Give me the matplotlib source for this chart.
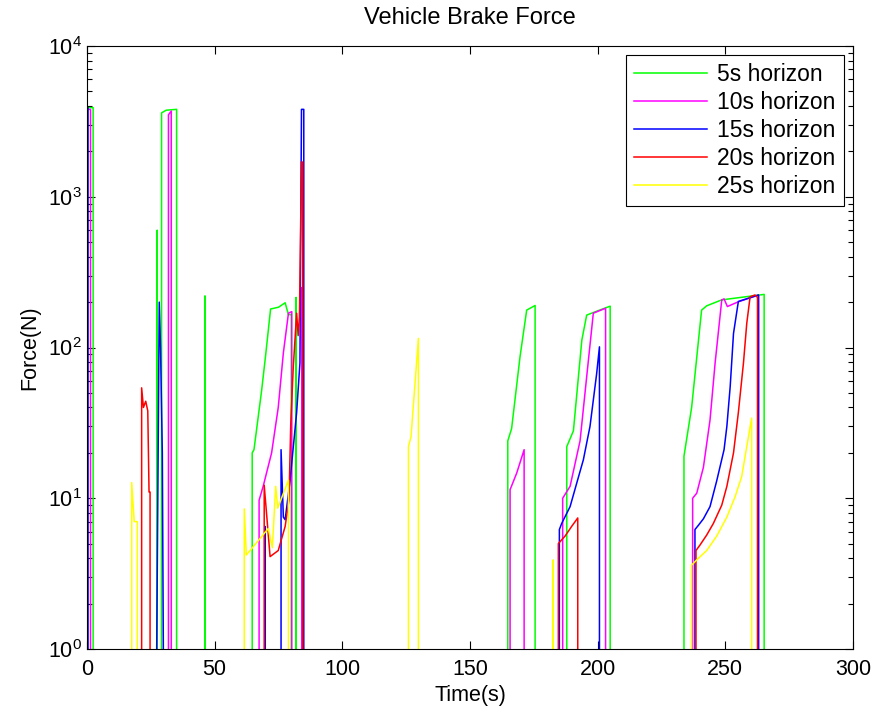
import matplotlib
matplotlib.use("Agg")
import matplotlib.pyplot as plt

plt.rcParams["font.family"] = ["Liberation Sans", "DejaVu Sans"]
plt.rcParams["mathtext.default"] = "regular"

# brake force per prediction horizon, 0 means no braking (off the log axis)
t_5s = [0, 2.4, 2.5,
        27.3, 27.5, 27.7,
        29.0, 29.2, 31.0, 35.1, 35.6,
        46.0, 46.2, 46.4,
        64.5, 64.7, 65.4, 68.4, 70.0, 71.9, 75.0, 77.6, 78.9, 80.0, 80.3,
        81.6, 81.9, 82.2,
        164.6, 164.8, 166.3, 169.6, 172.2, 175.5, 176.2,
        187.7, 187.9, 190.5, 193.8, 195.7, 200.0, 204.9, 205.8,
        233.6, 233.8, 236.8, 240.7, 242.7, 248.6, 265.2, 266.2]
f_5s = [3900, 3900, 0,
        0, 600, 0,
        0, 3600, 3750, 3800, 0,
        0, 220, 0,
        0, 20, 21, 52, 90, 180, 185, 198, 165, 165, 0,
        0, 215, 0,
        0, 24, 29, 87, 177, 190, 0,
        0, 22, 28, 112, 164, 175, 188, 0,
        0, 19, 40, 177, 189, 207, 225, 0]

t_10s = [0, 1.4, 1.5,
         31.6, 31.9, 33.0, 33.8,
         67.2, 67.4, 69.0, 72.3, 74.9, 76.9, 78.9, 80.2, 81.0,
         83.8, 84.2, 85.2,
         165.5, 165.7, 168.3, 171.2, 172.0,
         186.1, 186.3, 189.2, 193.1, 195.7, 198.3, 203.1, 203.8,
         237.0, 237.2, 238.8, 241.4, 244.0, 246.0, 248.6, 249.5, 250.8, 255.1, 263.0, 263.5]
f_10s = [3800, 3800, 0,
         0, 3500, 3700, 0,
         0, 9.7, 12, 20, 40, 92, 169, 173, 0,
         0, 250, 0,
         0, 11.4, 14.7, 21, 0,
         0, 10, 12, 24, 64, 169, 182, 0,
         0, 10, 10.8, 16, 33, 79, 207, 210, 187, 201, 223, 0]

t_15s = [0, 0.4, 0.5,
         27.2, 27.3, 28.3, 28.8, 29.5, 29.9, 30.0,
         69.5, 69.7, 70.0,
         75.8, 76.0, 76.9, 77.6, 79.5, 82.1, 83.4, 84.0, 84.9, 85.6,
         184.8, 185.0, 185.9, 189.2, 191.8, 194.4, 197.0, 199.6, 200.7, 201.3,
         237.9, 238.1, 239.4, 241.4, 244.0, 246.6, 249.5, 250.6, 251.9, 253.2, 255.1, 263.0, 264.2]
f_15s = [3900, 3900, 0,
         0, 1.0, 200, 100, 20, 1.0, 0,
         0, 6.5, 0,
         0, 21, 7.5, 7.2, 13, 37, 79, 3800, 3800, 0,
         0, 6.2, 6.8, 8.8, 12.6, 18, 30, 67, 101, 0,
         0, 6.2, 6.6, 7.3, 8.8, 13, 21, 30, 55, 124, 202, 223, 0]

t_20s = [21.2, 21.4, 22.1, 23.0, 23.8, 24.3, 24.7, 25.1,
         69.2, 69.4, 70.3, 71.7, 74.9, 77.6, 79.1, 79.8, 80.8, 82.1, 82.7, 83.2, 84.0, 84.5, 85.0,
         184.4, 184.6, 185.9, 187.2, 189.8, 192.2, 192.7,
         238.3, 238.5, 240.1, 242.7, 245.3, 248.6, 250.6, 253.2, 255.1, 257.1, 258.4, 259.7, 261.6, 262.6, 263.1]
f_20s = [0, 54, 40, 44, 38, 11, 11, 0,
         0, 12.2, 8, 4.1, 4.5, 6.5, 9.7, 31, 75, 169, 120, 160, 1700, 1700, 0,
         0, 5.0, 5.3, 5.6, 6.5, 7.4, 0,
         0, 4.5, 4.9, 5.7, 6.8, 9, 12, 20, 37, 79, 145, 217, 223, 215, 0]

t_25s = [17.3, 17.5, 18.5, 19.7, 20.1,
         61.4, 61.6, 62.4, 71.0, 72.6, 73.9, 74.7, 78.9, 79.5,
         125.7, 125.9, 126.9, 129.8, 130.4,
         182.4, 182.6, 182.8,
         236.6, 236.8, 238.8, 242.7, 246.6, 250.6, 253.8, 256.4, 258.4, 260.3, 260.7]
f_25s = [0, 12.7, 7, 7, 0,
         0, 8.5, 4.2, 6.3, 4.7, 12, 8.6, 13.2, 0,
         0, 22, 25.6, 115, 0,
         0, 3.9, 0,
         0, 3.6, 3.9, 4.5, 5.6, 7.5, 10.2, 13.9, 22, 34, 0]

labels = ["5s horizon", "10s horizon", "15s horizon", "20s horizon", "25s horizon"]
colors = ["#00ff00", "#ff00ff", "#0000ff", "#ff0000", "#ffff00"]
times = [t_5s, t_10s, t_15s, t_20s, t_25s]
forces = [f_5s, f_10s, f_15s, f_20s, f_25s]

fig = plt.figure(figsize=(8.77, 7.13), dpi=100)
ax = fig.add_axes([87 / 877, 64 / 713, 766 / 877, 603 / 713])

for t, f, c, lab in zip(times, forces, colors, labels):
    ax.plot(t, f, color=c, lw=1.1, label=lab)

ax.set_yscale("log", nonpositive="clip")
ax.set_xlim(0, 300)
ax.set_ylim(1, 1e4)
ax.set_xticks(range(0, 301, 50))
ax.set_yticks([1, 10, 100, 1000, 10000])
ax.set_yticklabels([r"$10^{%d}$" % k for k in range(5)])
ax.tick_params(which="both", direction="in", top=True, right=True, labelsize=15.5)
ax.tick_params(axis="x", pad=7)
ax.tick_params(which="major", length=6, width=0.8)
ax.tick_params(which="minor", length=3.5, width=0.8)
for s in ax.spines.values():
    s.set_linewidth(0.8)

ax.set_title("Vehicle Brake Force", fontsize=17, pad=16)
ax.set_xlabel("Time(s)", fontsize=15.5, labelpad=4)
ax.set_ylabel("Force(N)", fontsize=15.5, labelpad=6)

leg = ax.legend(loc="upper right", fontsize=16.5, fancybox=False, framealpha=1,
                edgecolor="black", borderaxespad=0.4, handlelength=3.2,
                handletextpad=0.45, labelspacing=0.22, borderpad=0.35)
leg.get_frame().set_linewidth(0.8)

fig.savefig("out.png", dpi=100)
